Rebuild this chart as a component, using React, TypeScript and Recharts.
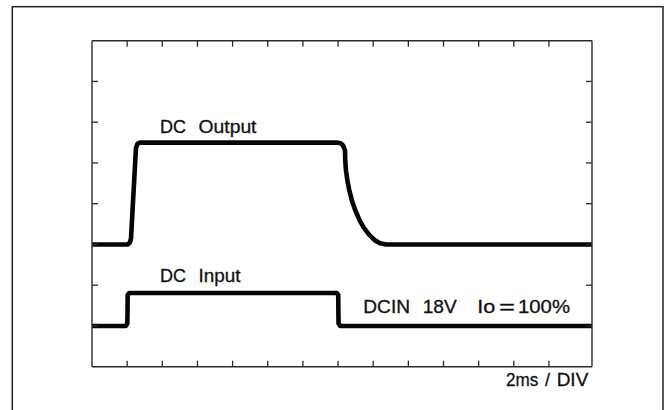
import React from "react";
import { LineChart, Line, XAxis, YAxis } from "recharts";

// time in ms (2 ms per division), level in divisions
const outputTime = [0, 2.05, 2.16, 2.22, 2.5, 2.59, 2.73, 13.88, 14.11, 14.27, 14.355, 14.395, 14.41, 14.45, 14.53, 14.64, 14.79, 14.98, 15.23, 15.48, 15.79, 16.1, 16.39, 16.73, 28.45];
const outputLevel = [3.0, 3.0, 3.05, 3.15, 5.36, 5.47, 5.5, 5.5, 5.49, 5.44, 5.355, 5.31, 5.06, 4.82, 4.57, 4.33, 4.08, 3.84, 3.59, 3.4, 3.23, 3.1, 3.03, 3.0, 3.0];

const inputTime = [0, 1.92, 2.01, 2.02, 2.03, 2.12, 13.92, 14.01, 14.02, 14.03, 14.12, 28.45];
const inputLevel = [1.0, 1.0, 1.06, 1.3, 1.76, 1.81, 1.81, 1.76, 1.3, 1.06, 1.0, 1.0];

const xTicks = [2, 4, 6, 8, 10, 12, 14, 16, 18, 20, 22, 24, 26];
const yTicks = [1, 2, 3, 4, 5, 6, 7];
const xDomain: [number, number] = [0, 28.45];
const yDomain: [number, number] = [0, 8];

const outputData = outputTime.map((t, i) => ({ t, v: outputLevel[i] }));
const inputData = inputTime.map((t, i) => ({ t, v: inputLevel[i] }));

const AX = "#2a2a2a";
const FONT = "'Liberation Sans', Arial, Helvetica, sans-serif";
const empty = () => "";

export default function App() {
  const axisCommon = {
    type: "number" as const,
    mirror: true,
    tickSize: 6,
    tickFormatter: empty,
    axisLine: { stroke: AX, strokeWidth: 1.4 },
    tickLine: { stroke: AX, strokeWidth: 1.3 },
    allowDataOverflow: true,
  };
  const txt = {
    fontFamily: FONT,
    fontSize: 18,
    fill: "#111",
    stroke: "#111",
    strokeWidth: 0.3,
    lengthAdjust: "spacingAndGlyphs" as const,
  };
  return (
    <div style={{ position: "absolute", left: 0, top: 0, width: 671, height: 410, background: "#fff" }}>
      <svg width={671} height={410} style={{ position: "absolute", left: 0, top: 0 }}>
        <rect x={12.3} y={6.7} width={650.7} height={420} fill="none" stroke="#222" strokeWidth={1.5} />
      </svg>
      <div style={{ position: "absolute", left: 0, top: 0 }}>
        <LineChart
          width={671}
          height={410}
          margin={{ top: 40.7, right: 79, bottom: 43.3, left: 92 }}
        >
          <XAxis xAxisId="b" dataKey="t" domain={xDomain} ticks={xTicks} {...axisCommon} />
          <XAxis xAxisId="t" orientation="top" dataKey="t" domain={xDomain} ticks={xTicks} {...axisCommon} />
          <YAxis yAxisId="l" dataKey="v" domain={yDomain} ticks={yTicks} {...axisCommon} />
          <YAxis yAxisId="r" orientation="right" dataKey="v" domain={yDomain} ticks={yTicks} {...axisCommon} />
          <Line
            xAxisId="b"
            yAxisId="l"
            data={outputData}
            dataKey="v"
            type="linear"
            stroke="#050505"
            strokeWidth={4.6}
            strokeLinejoin="round"
            strokeLinecap="round"
            dot={false}
            isAnimationActive={false}
          />
          <Line
            xAxisId="b"
            yAxisId="l"
            data={inputData}
            dataKey="v"
            type="linear"
            stroke="#050505"
            strokeWidth={4.6}
            strokeLinejoin="round"
            strokeLinecap="round"
            dot={false}
            isAnimationActive={false}
          />
        </LineChart>
      </div>
      <svg width={671} height={410} style={{ position: "absolute", left: 0, top: 0, pointerEvents: "none" }}>
        <text x={160} y={132.7} {...txt}>DC</text>
        <text x={198.5} y={132.7} textLength={58} {...txt}>Output</text>
        <text x={160} y={282.3} {...txt}>DC</text>
        <text x={198.5} y={282.3} textLength={42} {...txt}>Input</text>
        <text x={363.3} y={313.3} textLength={46.7} {...txt}>DCIN</text>
        <text x={422.7} y={313.3} textLength={34} {...txt}>18V</text>
        <text x={477.3} y={313.3} textLength={18} {...txt}>Io</text>
        <text x={499} y={313.3} textLength={16} {...txt}>=</text>
        <text x={518} y={313.3} textLength={52} {...txt}>100%</text>
        <text x={506} y={386} textLength={32.3} {...txt}>2ms</text>
        <text x={547.5} y={386} textAnchor="middle" {...txt}>/</text>
        <text x={556.7} y={386} textLength={31.6} {...txt}>DIV</text>
      </svg>
    </div>
  );
}
